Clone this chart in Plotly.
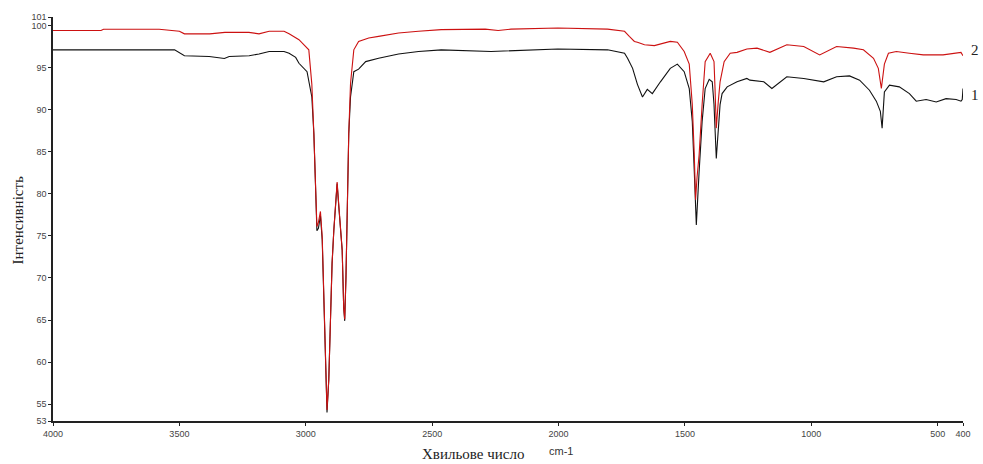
import plotly.graph_objects as go

# IR spectra: wavenumber (cm-1) vs intensity
wn_2 = [4000, 3810, 3800, 3580, 3500, 3480, 3380, 3320, 3225, 3185, 3145, 3086, 3066, 3027,
        2988, 2976, 2968, 2961, 2956, 2950, 2942, 2935, 2929, 2922, 2916, 2909, 2902, 2896,
        2889, 2876, 2869, 2863, 2856, 2850, 2846, 2841, 2837, 2830, 2823, 2810, 2791, 2751,
        2712, 2633, 2554, 2464, 2290, 2239, 2188, 2003, 1806, 1739, 1720, 1700, 1688, 1660,
        1621, 1597, 1558, 1530, 1503, 1483, 1471, 1463, 1458, 1452, 1444, 1432, 1420, 1400,
        1385, 1381, 1376, 1368, 1361, 1345, 1321, 1294, 1255, 1215, 1164, 1097, 1030, 967,
        900, 833, 794, 754, 735, 723, 711, 695, 664, 612, 557, 479, 408, 400]
int_2 = [99.4, 99.4, 99.55, 99.55, 99.3, 99.0, 99.0, 99.17, 99.17, 99.0, 99.3, 99.3, 99.0, 98.3,
         97.1, 93.0, 87.1, 80.5, 76.1, 76.6, 77.9, 74.9, 67.4, 58.6, 54.3, 57.9, 67.4, 71.7,
         75.7, 81.4, 78.5, 76.4, 73.3, 66.5, 65.1, 70.1, 77.3, 87.1, 93.1, 97.1, 98.1, 98.5,
         98.7, 99.1, 99.3, 99.5, 99.56, 99.4, 99.56, 99.7, 99.56, 99.3, 98.7, 98.1, 98.0, 97.7,
         97.6, 97.8, 98.1, 98.0, 96.9, 95.4, 90.6, 84.6, 79.3, 82.0, 84.6, 90.6, 95.7, 96.7,
         95.7, 92.5, 87.8, 91.0, 93.3, 95.7, 96.7, 96.8, 97.2, 97.3, 96.8, 97.7, 97.5, 96.5,
         97.5, 97.3, 97.1, 96.1, 94.9, 92.5, 95.4, 96.7, 96.9, 96.7, 96.5, 96.5, 96.8, 96.4]

wn_1 = [4000, 3519, 3480, 3382, 3322, 3303, 3224, 3185, 3145, 3086, 3066, 3040, 3027, 2995,
        2976, 2968, 2961, 2956, 2950, 2942, 2935, 2929, 2922, 2916, 2909, 2902, 2896, 2889,
        2876, 2869, 2863, 2856, 2850, 2846, 2841, 2837, 2830, 2823, 2810, 2791, 2763, 2712,
        2633, 2554, 2464, 2267, 2172, 2003, 1806, 1739, 1727, 1707, 1688, 1668, 1649, 1629,
        1597, 1558, 1530, 1503, 1483, 1471, 1463, 1455, 1444, 1432, 1420, 1404, 1392, 1385,
        1376, 1361, 1353, 1333, 1294, 1255, 1243, 1188, 1156, 1124, 1097, 1030, 951, 900,
        849, 809, 770, 743, 727, 720, 711, 691, 652, 612, 585, 546, 506, 467, 427, 408,
        403, 400]
int_1 = [97.1, 97.1, 96.4, 96.3, 96.07, 96.3, 96.4, 96.6, 96.9, 96.9, 96.7, 96.2, 95.5, 94.5,
         91.5, 87.1, 80.5, 75.6, 75.9, 77.4, 74.5, 67.4, 58.6, 54.0, 57.9, 67.4, 71.7, 75.7,
         81.2, 78.3, 76.2, 73.3, 66.5, 64.9, 70.1, 77.3, 87.1, 91.5, 94.5, 94.8, 95.7, 96.1,
         96.6, 96.9, 97.1, 96.9, 97.0, 97.2, 97.1, 96.7, 96.1, 94.9, 93.0, 91.5, 92.4, 91.9,
         93.3, 94.9, 95.4, 94.5, 92.5, 88.6, 82.6, 76.3, 82.6, 88.6, 92.5, 93.6, 93.3, 90.6,
         84.2, 90.6, 91.9, 92.7, 93.3, 93.7, 93.5, 93.3, 92.5, 93.3, 93.9, 93.7, 93.3, 93.9,
         94.0, 93.5, 92.3, 91.0, 89.8, 87.8, 92.1, 92.9, 92.7, 91.9, 91.0, 91.2, 90.9, 91.3,
         91.2, 91.0, 91.2, 92.5]

x_ticks = [4000, 3500, 3000, 2500, 2000, 1500, 1000, 500, 400]
y_ticks = [53, 55, 60, 65, 70, 75, 80, 85, 90, 95, 100, 101]

fig = go.Figure()
fig.add_trace(go.Scatter(x=wn_1, y=int_1, mode="lines",
                         line=dict(color="#111111", width=1.1), showlegend=False))
fig.add_trace(go.Scatter(x=wn_2, y=int_2, mode="lines",
                         line=dict(color="#cc1111", width=1.1), showlegend=False))

tick_font = dict(family="Liberation Sans, Arial, sans-serif", size=9, color="#444444")
fig.update_xaxes(range=[4000, 400], tickvals=x_ticks, ticktext=[str(v) for v in x_ticks],
                 showgrid=False, zeroline=False, showline=True, linecolor="#222222",
                 linewidth=1.5, ticks="outside", ticklen=3, tickcolor="#222222",
                 tickfont=tick_font)
fig.update_yaxes(range=[53, 101], tickvals=y_ticks, ticktext=[str(v) for v in y_ticks],
                 showgrid=False, zeroline=False, showline=True, linecolor="#222222",
                 linewidth=1.5, ticks="outside", ticklen=3, tickcolor="#222222",
                 tickfont=tick_font)

serif = "Liberation Serif, Times New Roman, serif"
annotations = [
    dict(text="Хвильове число", x=0.462, y=-0.081, font=dict(family=serif, size=15, color="#222")),
    dict(text="cm-1", x=0.558, y=-0.074, font=dict(family="Liberation Sans, Arial", size=11, color="#333")),
    dict(text="Інтенсивність", x=-0.038, y=0.4975, textangle=-90,
         font=dict(family=serif, size=15, color="#222")),
    dict(text="2", x=1.013, y=0.919, font=dict(family=serif, size=15, color="#222")),
    dict(text="1", x=1.013, y=0.808, font=dict(family=serif, size=15, color="#222")),
]
for a in annotations:
    a.update(xref="paper", yref="paper", showarrow=False, xanchor="center", yanchor="middle")

fig.update_layout(width=983, height=464, margin=dict(l=53, r=16, t=15, b=43),
                  plot_bgcolor="white", paper_bgcolor="white", annotations=annotations)

fig.write_html("out.html")
